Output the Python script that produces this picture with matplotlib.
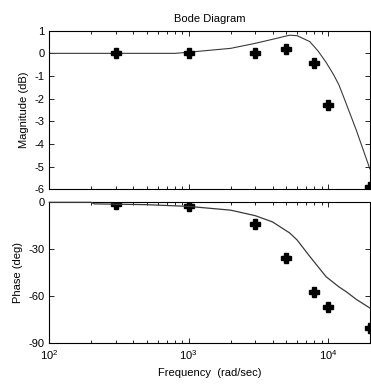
import matplotlib
matplotlib.use("Agg")
import matplotlib.pyplot as plt
from matplotlib.ticker import LogLocator, NullFormatter

# measured points (markers)
meas_freq = [300, 1000, 3000, 5000, 8000, 10000, 20000]
meas_mag = [0.0, 0.0, 0.0, 0.2, -0.42, -2.27, -5.9]
meas_phase = [-1.1, -2.2, -14, -35.3, -57.2, -66.8, -80]

# model curve (magnitude)
mag_freq = [100, 800, 1000, 2000, 3000, 4000, 5300, 6000, 7400, 8500, 9700,
            11000, 12000, 13100, 16000, 18000, 20000]
mag_db = [0.0, 0.0, 0.05, 0.22, 0.44, 0.62, 0.8, 0.78, 0.52, 0.1, -0.4,
          -0.95, -1.4, -2.0, -3.4, -4.3, -5.1]

# model curve (phase)
ph_freq = [100, 200, 210, 500, 1000, 2000, 3000, 4000, 5300, 6000, 7400,
           9700, 12000, 13500, 16000, 20000]
ph_deg = [0.0, 0.0, -1.0, -1.5, -2.6, -5.0, -8.5, -12.5, -19.5, -24, -34.5,
          -47.5, -54, -57, -62, -67.5]

plt.rcParams["font.family"] = ["Liberation Sans", "DejaVu Sans"]
plt.rcParams["font.size"] = 8
plt.rcParams["axes.unicode_minus"] = False

fig = plt.figure(figsize=(3.71, 3.85), dpi=100)
ax1 = fig.add_axes([0.133, 0.5083, 0.864, 0.412])
ax2 = fig.add_axes([0.133, 0.1083, 0.864, 0.3662])

line_color = "#3a3a3a"
ax1.plot(mag_freq, mag_db, color=line_color, lw=0.8)
ax1.plot(meas_freq, meas_mag, linestyle="none", marker="P", ms=7.5,
         color="black", mec="black")
ax2.plot(ph_freq, ph_deg, color=line_color, lw=0.9, zorder=3, clip_on=False)
ax2.plot(meas_freq, meas_phase, linestyle="none", marker="P", ms=7.5,
         color="black", mec="black")

for ax in (ax1, ax2):
    ax.set_xscale("log")
    ax.set_xlim(100, 2e4)
    ax.xaxis.set_major_locator(LogLocator(base=10))
    ax.xaxis.set_minor_locator(LogLocator(base=10, subs=range(2, 10)))
    ax.xaxis.set_minor_formatter(NullFormatter())
    ax.tick_params(which="both", direction="in", top=True, right=True,
                   labelsize=8)
    ax.tick_params(which="major", length=3.5, width=0.6)
    ax.tick_params(which="minor", length=2, width=0.6)
    for s in ax.spines.values():
        s.set_linewidth(0.8)

ax1.set_ylim(-6, 1)
ax1.set_yticks(range(-6, 2))
ax1.xaxis.set_major_formatter(NullFormatter())
ax1.set_ylabel("Magnitude (dB)", labelpad=4)
ax1.set_title("Bode Diagram", fontsize=8, pad=6)

ax2.set_ylim(-90, 0)
ax2.set_yticks([0, -30, -60, -90])
ax2.set_ylabel("Phase (deg)", labelpad=4)
ax2.set_xlabel("Frequency  (rad/sec)", labelpad=4)

fig.savefig("out.png", dpi=100)
